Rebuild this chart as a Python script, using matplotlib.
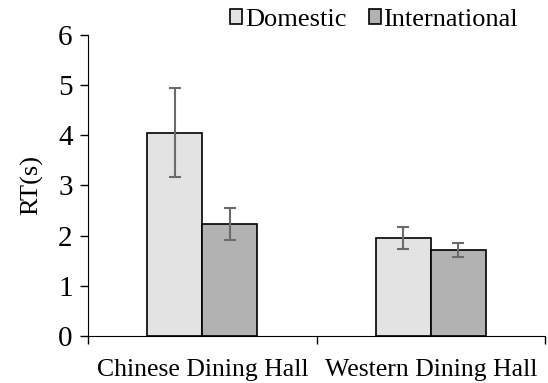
import numpy as np
import matplotlib
matplotlib.use("Agg")
import matplotlib.pyplot as plt

plt.rcParams['font.family'] = ['Liberation Serif', 'DejaVu Serif']

categories = ["Chinese Dining Hall", "Western Dining Hall"]
domestic = [4.05, 1.96]
international = [2.23, 1.71]
domestic_err = [0.89, 0.22]
international_err = [0.32, 0.14]

fig = plt.figure(figsize=(5.48, 3.83), dpi=100)
ax = fig.add_axes([0.1606, 0.1227, 0.834, 0.786])

x = np.arange(len(categories))
w = 0.24
err_kw = dict(ecolor="#6b6b6b", elinewidth=1.5, capsize=4.3, capthick=1.5)
ax.bar(x - w / 2, domestic, w, yerr=domestic_err, color="#e3e3e3",
       edgecolor="black", linewidth=1.2, label="Domestic", error_kw=err_kw)
ax.bar(x + w / 2, international, w, yerr=international_err, color="#b2b2b2",
       edgecolor="black", linewidth=1.2, label="International", error_kw=err_kw)

ax.set_xlim(-0.5, 1.5)
ax.set_ylim(0, 6)
ax.set_yticks(range(7))
ax.tick_params(axis="y", labelsize=21, length=6, width=1, direction="out", pad=5)
ax.set_xticks([-0.5, 0.5, 1.5])
ax.set_xticklabels([])
ax.tick_params(axis="x", length=6, width=1, direction="out")
for xi, name in zip(x, categories):
    ax.text(xi, -0.45, name, ha="center", va="top", fontsize=18.5,
            transform=ax.transData)

ax.spines["top"].set_visible(False)
ax.spines["right"].set_visible(False)
ax.set_ylabel("RT(s)", fontsize=19, labelpad=11)

ax.legend(loc="center", bbox_to_anchor=(0.626, 1.05), ncol=2, frameon=False,
          fontsize=19, handlelength=0.45, handleheight=0.48,
          handletextpad=0.1, columnspacing=0.85, borderaxespad=0)

fig.savefig("out.png", dpi=100)
